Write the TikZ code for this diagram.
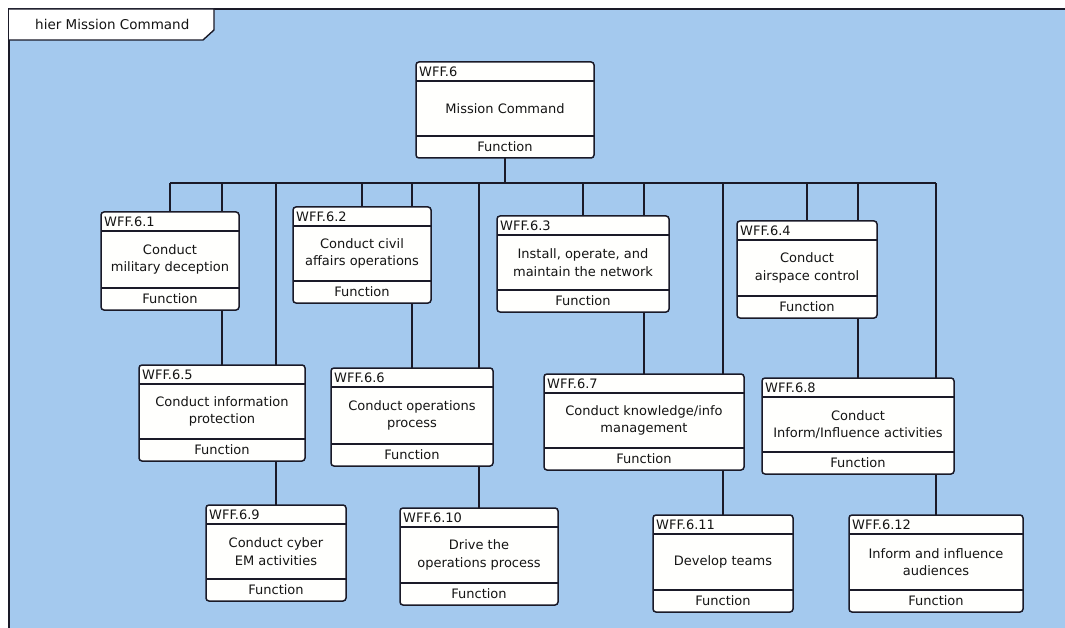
\documentclass[tikz,border=0pt]{standalone}
\usepackage{fontspec}
\setmainfont{DejaVu Sans}
\usetikzlibrary{calc}
\pgfdeclarelayer{back}
\pgfdeclarelayer{wires}
\pgfsetlayers{back,wires,main}
\definecolor{bgblue}{HTML}{A4C9EE}
\definecolor{ink}{HTML}{1A1A28}
\definecolor{txt}{HTML}{141414}
\definecolor{boxfill}{HTML}{FFFFFD}
\def\wffhdr{19pt}
\def\wffftr{22pt}
\tikzset{
  wbox/.style={draw=ink, line width=1.5pt, rounded corners=3pt, fill=boxfill, inner sep=0pt, outer sep=0pt},
  sep/.style={draw=ink, line width=1.4pt},
  hdrtxt/.style={text=txt, inner sep=0pt, font=\fontsize{13}{15}\selectfont},
  bodytxt/.style={text=txt, inner sep=0pt, align=center, font=\fontsize{13}{17.5}\selectfont},
  fntxt/.style={text=txt, inner sep=0pt, font=\fontsize{13}{15}\selectfont},
  wire/.style={draw=ink, line width=1.5pt},
  frameline/.style={draw=ink, line width=2.6pt},
  tabshape/.style={draw=ink, line width=1.4pt, fill=white}
}
\newcommand\wffbox[7]{%
  \node[wbox, minimum width=#4pt-#2pt, minimum height=#5pt-#3pt] (#1) at ({(#2+#4)/2},{(#3+#5)/2}) {};
  \draw[sep] ([yshift=-\wffhdr]#1.north west) -- ([yshift=-\wffhdr]#1.north east);
  \draw[sep] ([yshift=\wffftr]#1.south west) -- ([yshift=\wffftr]#1.south east);
  \node[hdrtxt, anchor=west] at ([xshift=3pt,yshift=-\wffhdr/2]#1.north west) {#6};
  \node[bodytxt] at ($([yshift=-\wffhdr]#1.north)!0.5!([yshift=\wffftr]#1.south)$) {#7};
  \node[fntxt] at ([yshift=\wffftr/2]#1.south) {Function};
}
\begin{document}
\begin{tikzpicture}[x=1pt, y=-1pt]
\useasboundingbox (0,0) rectangle (1065,628);
\begin{pgfonlayer}{back}
  \fill[white] (0,0) rectangle (1065,628);
  \fill[bgblue] (9,9) rectangle (1065,628);
\end{pgfonlayer}

\wffbox{w6}{416}{62}{594}{158}{WFF.6}{Mission Command}
\wffbox{w61}{101}{212}{239}{310}{WFF.6.1}{Conduct\\military deception}
\wffbox{w62}{293}{207}{431}{303}{WFF.6.2}{Conduct civil\\affairs operations}
\wffbox{w63}{497}{216}{669}{312}{WFF.6.3}{Install, operate, and\\maintain the network}
\wffbox{w64}{737}{221}{877}{318}{WFF.6.4}{Conduct\\airspace control}
\wffbox{w65}{139}{365}{305}{461}{WFF.6.5}{Conduct information\\protection}
\wffbox{w66}{331}{368}{493}{466}{WFF.6.6}{Conduct operations\\process}
\wffbox{w67}{544}{374}{744}{470}{WFF.6.7}{Conduct knowledge/info\\management}
\wffbox{w68}{762}{378}{954}{474}{WFF.6.8}{Conduct\\Inform/Influence activities}
\wffbox{w69}{206}{505}{346}{601}{WFF.6.9}{Conduct cyber\\EM activities}
\wffbox{w610}{400}{508}{558}{605}{WFF.6.10}{Drive the\\operations process}
\wffbox{w611}{653}{515}{793}{612}{WFF.6.11}{Develop teams}
\wffbox{w612}{849}{515}{1023}{612}{WFF.6.12}{Inform and influence\\audiences}

\coordinate (bus) at (0,183);

\begin{pgfonlayer}{wires}
  \draw[wire] (w6.south) -- (w6.south |- bus);
  \draw[wire] (w61.north |- bus) -- (w612.north |- bus);
  \foreach \c in {w61,w62,w63,w64,w65,w66,w67,w68,w69,w610,w611,w612}{
    \draw[wire] (\c.north) -- (\c.north |- bus);
  }
\end{pgfonlayer}

% frame and tab
\draw[frameline] (1065,9) -- (9,9) -- (9,628);
\draw[tabshape] (9,9) -- (214,9) -- (214,30) -- (203,40) -- (9,40);
\node[hdrtxt, anchor=west, font=\fontsize{13.5}{15}\selectfont] (tabtext) at (35,24) {hier Mission Command};
\end{tikzpicture}
\end{document}
